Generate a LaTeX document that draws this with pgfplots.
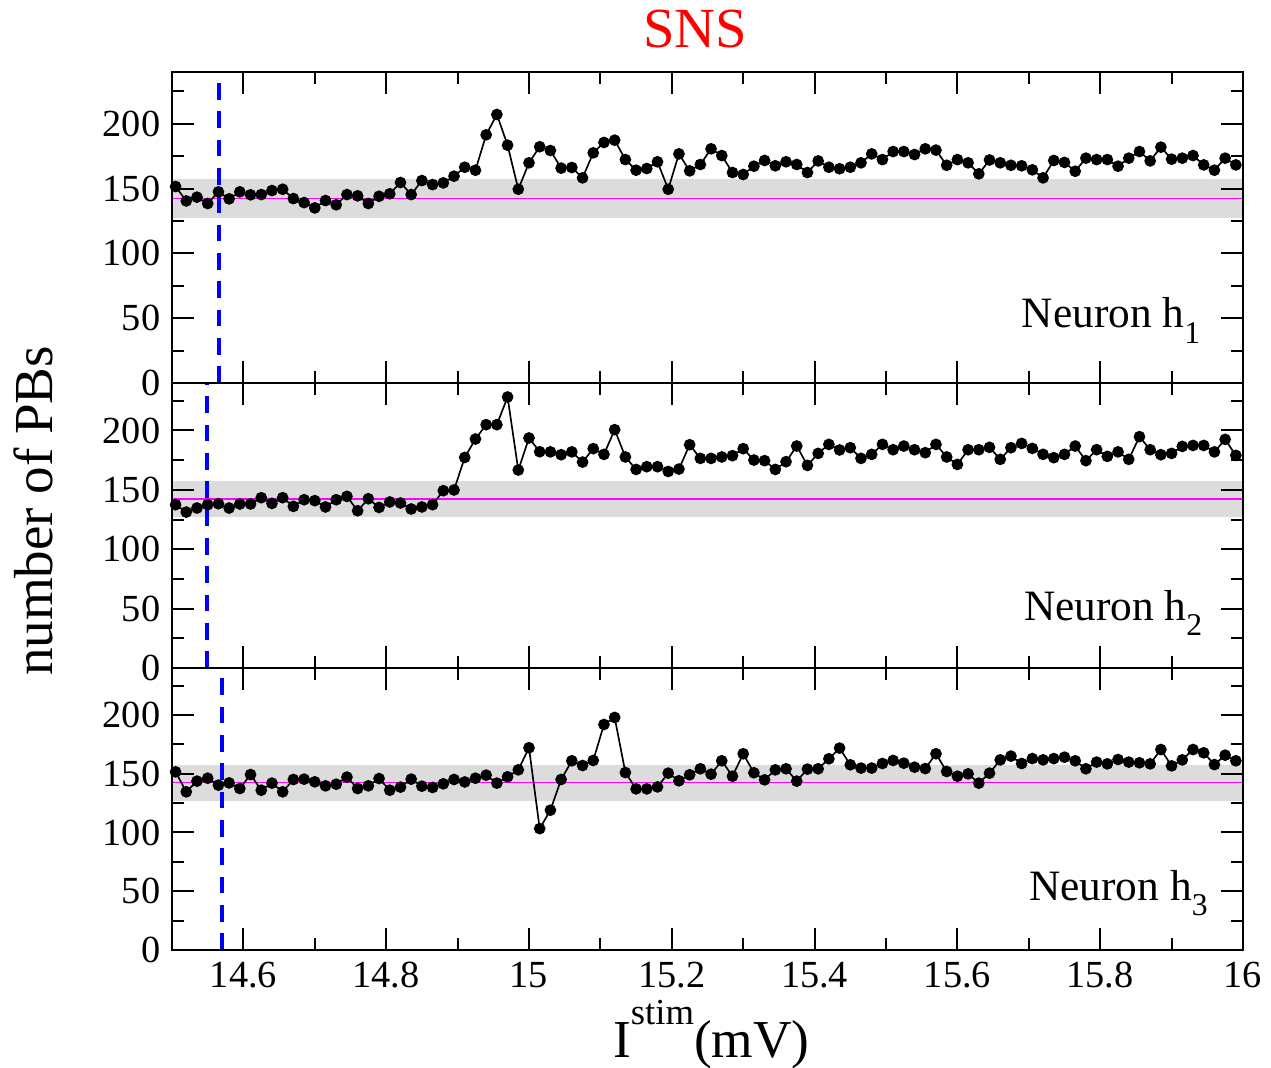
\documentclass[border=0pt]{standalone}
\usepackage{fontspec}
\setmainfont{Liberation Serif}
\usepackage{pgfplots}
\usepackage{pgfplotstable}
\pgfplotsset{compat=1.18}
\definecolor{bandgray}{HTML}{DCDCDC}
\definecolor{mag}{HTML}{FF00FF}

% number of PBs per neuron vs stimulus current
\pgfplotstableread{
x      h1    h2    h3
14.505 151.6 137.5 151.6
14.52  140.5 131.3 134.6
14.535 143.4 134.7 143.7
14.55  138.5 137.5 146.2
14.565 147.5 138.3 140.3
14.58  142.1 134.7 142.2
14.595 147.5 138.1 137.4
14.61  145.2 138.1 149.3
14.625 145.4 143.4 136.0
14.64  148.5 138.6 142.0
14.655 149.5 143.4 134.6
14.67  142.3 136.1 145.1
14.685 139.2 141.7 145.4
14.7   135.1 140.9 143.1
14.715 140.8 135.6 139.7
14.73  137.5 141.7 141.1
14.745 145.4 144.5 147.1
14.76  144.4 132.4 137.4
14.775 138.5 142.5 139.7
14.79  144.1 135.2 145.9
14.805 146.0 139.8 136.0
14.82  154.7 138.9 138.6
14.835 145.4 133.9 145.4
14.85  156.2 135.6 139.4
14.865 153.1 137.5 138.3
14.88  154.4 149.3 141.4
14.895 159.6 149.9 145.1
14.91  166.5 177.3 143.0
14.925 164.2 192.8 146.2
14.94  191.5 204.9 148.8
14.955 207.2 204.9 142.0
14.97  183.5 228.2 147.4
14.985 149.5 166.7 153.3
15.0   169.9 193.7 172.1
15.015 182.3 182.1 103.3
15.03  179.4 182.0 119.0
15.045 165.8 179.6 145.1
15.06  166.3 182.0 161.0
15.075 158.3 173.4 157.0
15.09  177.6 184.7 161.3
15.105 185.6 179.9 191.9
15.12  187.4 200.7 197.9
15.135 172.4 177.7 151.0
15.15  164.2 167.2 137.1
15.165 165.5 169.5 137.1
15.18  170.7 169.5 138.8
15.195 149.5 165.5 150.5
15.21  176.8 167.5 144.0
15.225 163.7 188.0 149.1
15.24  168.6 176.5 154.2
15.255 180.7 176.5 149.6
15.27  175.5 177.7 161.0
15.285 162.4 178.8 147.9
15.3   160.9 184.7 167.0
15.315 167.3 175.1 150.8
15.33  171.7 174.6 144.8
15.345 167.6 167.2 153.3
15.36  170.7 173.7 154.2
15.375 168.6 186.9 143.7
15.39  162.4 170.6 153.9
15.405 171.4 180.7 154.2
15.42  166.5 188.3 162.7
15.435 165.3 183.6 171.8
15.45  166.5 185.5 157.6
15.465 169.9 176.5 154.8
15.48  176.8 179.9 154.8
15.495 172.4 188.3 158.7
15.51  178.6 183.8 161.3
15.525 178.6 186.9 159.0
15.54  176.3 183.8 155.6
15.555 180.7 181.3 154.4
15.57  179.7 188.3 167.0
15.585 168.0 177.7 151.9
15.6   172.4 171.4 147.9
15.615 169.9 183.8 149.9
15.63  161.4 183.8 142.0
15.645 172.1 185.8 150.5
15.66  169.9 175.7 161.8
15.675 168.0 185.5 165.0
15.69  167.6 189.1 158.7
15.705 164.5 184.9 162.9
15.72  158.3 179.9 161.8
15.735 171.7 177.1 162.9
15.75  170.2 179.9 164.1
15.765 163.4 186.9 161.0
15.78  173.5 174.6 154.2
15.795 172.4 183.8 159.9
15.81  172.4 178.2 158.4
15.825 167.3 182.0 162.1
15.84  173.5 175.7 159.9
15.855 178.6 194.8 159.3
15.87  171.4 183.8 158.4
15.885 182.0 179.6 170.6
15.9   172.7 180.7 156.7
15.915 173.5 186.6 161.8
15.93  175.5 187.4 170.6
15.945 168.3 187.4 167.8
15.96  164.2 182.0 157.8
15.975 173.5 192.5 165.8
15.99  168.3 179.0 161.0
}\pbs

\pgfplotsset{
  panel/.style={
    scale only axis, width=321.3pt,
    xmin=14.5, xmax=16, ymin=0, ymax=240,
    axis on top,
    axis line style={line width=0.6pt},
    every tick/.style={black, line width=0.6pt},
    tick align=inside,
    major tick length=6.5pt, minor tick length=3.5pt,
    xtick={14.6,14.8,15,15.2,15.4,15.6,15.8,16},
    minor xtick={14.5,14.7,14.9,15.1,15.3,15.5,15.7,15.9},
    ytick={0,50,100,150,200},
    minor ytick={25,75,125,175,225},
    tick label style={font=\fontsize{11.5}{11.5}\selectfont},
    /pgf/number format/assume math mode=true,
  },
}
\tikzset{neuronlbl/.style={anchor=base east, font=\fontsize{13}{13}\selectfont}}

\newcommand{\band}{%
  \addplot[draw=none, fill=bandgray] coordinates {(14.5,127) (16,127) (16,157.5) (14.5,157.5)} -- cycle;
  \addplot[mag, line width=0.45pt] coordinates {(14.5,142.5) (16,142.5)};
}

\begin{document}
\begin{tikzpicture}
\path[use as bounding box] (-51.6pt,21.6pt) rectangle (329.7pt,-298.8pt);

% h1
\begin{axis}[panel, height=93.3pt, at={(0pt,0pt)}, anchor=north west, xticklabels={}]
\band
\addplot[blue, line width=1pt, dash pattern=on 5pt off 3.5pt] coordinates {(14.566,0) (14.566,240)};
\addplot[black, line width=0.5pt, mark=*, mark size=1.5pt] table[x=x, y=h1] {\pbs};
\node[neuronlbl] at (rel axis cs:0.971,0.177) {Neuron h\raisebox{-0.35em}{\fontsize{9.5}{9.5}\selectfont 1}};
\end{axis}

% h2
\begin{axis}[panel, height=85.5pt, at={(0pt,-93.3pt)}, anchor=north west, xticklabels={}]
\band
\addplot[blue, line width=1pt, dash pattern=on 5pt off 3.5pt] coordinates {(14.549,0) (14.549,240)};
\addplot[black, line width=0.5pt, mark=*, mark size=1.5pt] table[x=x, y=h2] {\pbs};
\node[neuronlbl] at (rel axis cs:0.973,0.168) {Neuron h\raisebox{-0.35em}{\fontsize{9.5}{9.5}\selectfont 2}};
\end{axis}

% h3
\begin{axis}[panel, height=84.6pt, at={(0pt,-178.8pt)}, anchor=north west]
\band
\addplot[blue, line width=1pt, dash pattern=on 5pt off 3.5pt] coordinates {(14.570,0) (14.570,240)};
\addplot[black, line width=0.5pt, mark=*, mark size=1.5pt] table[x=x, y=h3] {\pbs};
\node[neuronlbl] at (rel axis cs:0.978,0.177) {Neuron h\raisebox{-0.35em}{\fontsize{9.5}{9.5}\selectfont 3}};
\end{axis}

\node[anchor=base, text=red, font=\fontsize{17}{17}\selectfont] at (156.9pt,7.2pt) {SNS};
\node[anchor=base, rotate=90, font=\fontsize{16.5}{16.5}\selectfont] at (-35.7pt,-131.7pt) {number of PBs};
\node[anchor=base, font=\fontsize{16}{16}\selectfont] at (161.8pt,-295.8pt)
  {I\raisebox{10pt}{\fontsize{11}{11}\selectfont stim}(mV)};
\end{tikzpicture}
\end{document}
